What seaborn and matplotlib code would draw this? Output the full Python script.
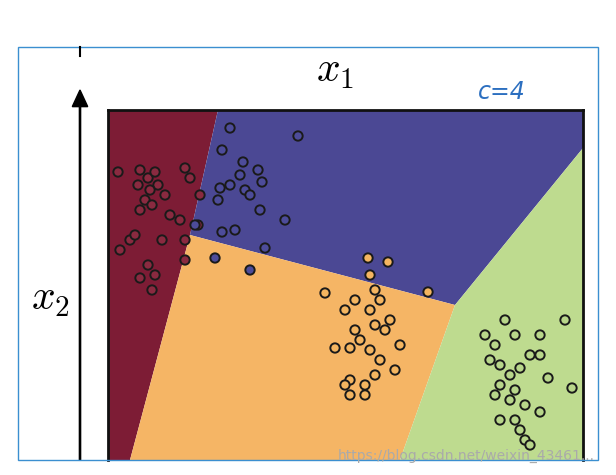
import matplotlib
matplotlib.use("Agg")
import matplotlib.pyplot as plt
import seaborn as sns
import pandas as pd
from matplotlib.patches import Polygon, Rectangle, FancyArrow

plt.rcParams["mathtext.fontset"] = "cm"

# cluster points (screen-like coordinates, y grows downward)
red_x = [118,140,148,155,158,150,138,145,140,152,165,185,190,180,170,130,135,162,185,185,148,155,140,152,120,200,198]
red_y = [172,170,178,172,185,190,185,200,210,205,195,168,178,220,215,240,235,240,240,260,265,275,278,290,250,195,225]
blue_x = [230,298,222,243,258,240,230,220,245,262,250,260,218,235,222,285,265,215,250,195]
blue_y = [128,136,150,162,170,175,185,188,190,182,195,210,200,230,232,220,248,258,270,225]
orange_x = [325,368,388,370,375,355,380,345,370,390,375,355,385,335,350,370,380,395,375,350,345,365,350,365,428,400,360]
orange_y = [293,258,262,275,290,300,300,310,310,320,325,330,330,348,348,350,360,370,375,380,385,385,395,395,292,345,340]
green_x = [505,485,495,515,540,565,490,500,530,540,510,520,500,515,548,572,510,525,540,515,520,500,525,530,495]
green_y = [320,335,345,335,335,320,360,365,355,355,375,368,385,390,378,388,400,405,412,420,430,420,440,445,395]

# Voronoi regions
red_region = [(108,110),(218,110),(190,235),(130,460),(108,460)]
blue_region = [(218,110),(583,110),(583,148),(455,305),(190,235)]
orange_region = [(190,235),(455,305),(400,460),(130,460)]
green_region = [(455,305),(583,148),(583,460),(400,460)]

colors = {"red": "#7d1c35", "blue": "#4b4894", "orange": "#f5b565", "green": "#bedb8f"}
pt_colors = {"red": "#8a2a40", "blue": "#4d4c9a", "orange": "#f4b560", "green": "#b8d68a"}

df = pd.concat([
    pd.DataFrame({"x": red_x, "y": red_y, "c": "red"}),
    pd.DataFrame({"x": blue_x, "y": blue_y, "c": "blue"}),
    pd.DataFrame({"x": orange_x, "y": orange_y, "c": "orange"}),
    pd.DataFrame({"x": green_x, "y": green_y, "c": "green"}),
])

fig = plt.figure(figsize=(6.16, 4.75), dpi=100)
fig.patches.append(Rectangle((18/616, 1-460/475), 580/616, 413/475, transform=fig.transFigure,
                             fill=False, edgecolor="#3b8fd0", linewidth=1.0))
ax = fig.add_axes([108/616, 1-460/475, 475/616, 350/475])
for name, reg in [("red", red_region), ("blue", blue_region), ("orange", orange_region), ("green", green_region)]:
    ax.add_patch(Polygon(reg, closed=True, facecolor=colors[name], edgecolor="none"))
sns.scatterplot(data=df, x="x", y="y", hue="c", palette=pt_colors, edgecolor="#1a1a1a",
                linewidth=1.4, s=45, legend=False, ax=ax, zorder=3)
ax.set_xlim(108, 583)
ax.set_ylim(460, 110)
ax.set_xticks([]); ax.set_yticks([])
ax.set_xlabel(""); ax.set_ylabel("")
for sp in ax.spines.values():
    sp.set_linewidth(2); sp.set_color("#111111")
ax.spines["bottom"].set_visible(False)

fig.text(335/616, 1-70/475, r"$x_1$", fontsize=30, ha="center", va="center")
fig.text(50/616, 1-298/475, r"$x_2$", fontsize=30, ha="center", va="center")
fig.text(502/616, 1-92/475, "c=4", fontsize=17, color="#2c6fc0", ha="center", va="center",
         family="DejaVu Sans", style="italic")
fig.add_artist(FancyArrow(80/616, 1-460/475, 0, 370/475, width=0.002, head_width=0.025,
                          head_length=0.035, color="black", transform=fig.transFigure, length_includes_head=True))
fig.add_artist(plt.Line2D([80/616, 80/616], [1-47/475, 1-56/475], color="black", lw=1.5, transform=fig.transFigure))
fig.text(595/616, 1-456/475, "https://blog.csdn.net/weixin_43461...", fontsize=10, color="#aaaaaa",
         ha="right", va="center")
fig.savefig("out.png", dpi=100)
